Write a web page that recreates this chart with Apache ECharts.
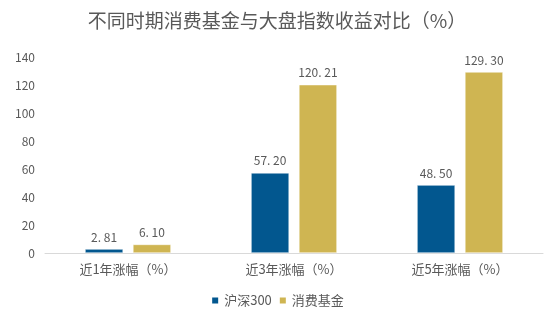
<!DOCTYPE html>
<html><head><meta charset="utf-8">
<script src="https://cdn.jsdelivr.net/npm/echarts@6/dist/echarts.min.js"></script>
<style>html,body{margin:0;padding:0;background:#fff}#c{width:554px;height:328px}</style>
</head><body><div id="c"></div>
<script>
var categories = ['近1年涨幅（%）', '近3年涨幅（%）', '近5年涨幅（%）'];
var hs300 = [2.81, 57.20, 48.50];
var consumer = [6.10, 120.21, 129.30];
var seriesNames = ['沪深300', '消费基金'];
var yTicks = [0, 20, 40, 60, 80, 100, 120, 140];

var font = '"Noto Sans CJK SC", "Microsoft YaHei", sans-serif';
var chart = echarts.init(document.getElementById('c'), null, {renderer: 'canvas'});
function fmt(p) { return p.value.toFixed(2).replace('.', '. '); }
chart.setOption({
  animation: false,
  textStyle: {fontFamily: font},
  title: {
    text: '不同时期消费基金与大盘指数收益对比（%）',
    left: 'center', top: 6,
    textStyle: {fontSize: 19, fontWeight: 'normal', color: '#595959', fontFamily: font}
  },
  legend: {
    data: seriesNames, bottom: 16, left: 'center',
    itemWidth: 8, itemHeight: 8, itemGap: 6, icon: 'rect',
    textStyle: {fontSize: 13, color: '#595959', fontFamily: font}
  },
  grid: {left: 45, right: 11, top: 57, bottom: 75},
  xAxis: {
    type: 'category', data: categories,
    axisLine: {lineStyle: {color: '#d9d9d9', width: 1}},
    axisTick: {show: false},
    axisLabel: {fontSize: 13, color: '#595959', margin: 10, fontFamily: font}
  },
  yAxis: {
    type: 'value', min: yTicks[0], max: yTicks[yTicks.length - 1], interval: 20,
    axisLine: {show: false}, axisTick: {show: false},
    splitLine: {show: false},
    axisLabel: {fontSize: 12, color: '#595959', margin: 10, fontFamily: font}
  },
  series: [
    {name: seriesNames[0], type: 'bar', data: hs300, barWidth: 38, barGap: '26%',
     itemStyle: {color: '#02578f', borderColor: '#ffffff', borderWidth: 0.5},
     label: {show: true, position: 'top', distance: 6, formatter: fmt, fontSize: 12, color: '#595959', fontFamily: font}},
    {name: seriesNames[1], type: 'bar', data: consumer, barWidth: 38,
     itemStyle: {color: '#cfb552', borderColor: '#ffffff', borderWidth: 0.5},
     label: {show: true, position: 'top', distance: 6, formatter: fmt, fontSize: 12, color: '#595959', fontFamily: font}}
  ]
});
</script></body></html>
